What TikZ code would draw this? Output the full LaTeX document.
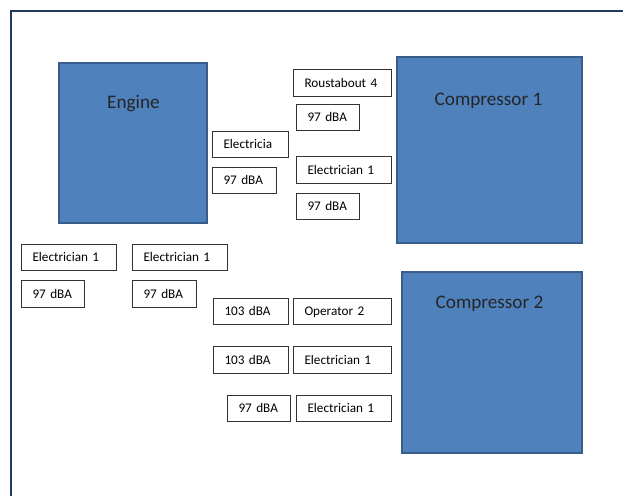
\documentclass[tikz,border=0pt]{standalone}
\usepackage{fontspec}
\setmainfont{Carlito}
\usepackage{tikz}
\usetikzlibrary{positioning}
\definecolor{officeblue}{HTML}{4F81BD}
\definecolor{officeedge}{HTML}{385D8A}
\definecolor{framenavy}{HTML}{1F3A5F}
\tikzset{
    machine/.style={rectangle, draw=officeedge, fill=officeblue, line width=1.6pt, inner sep=0pt},
    tag/.style={rectangle, draw=black!80, line width=0.9pt, fill=white, inner xsep=11.5pt, inner ysep=0pt, minimum height=26.5pt, text height=8.3pt, text depth=0pt, align=left, font=\fontsize{13.2}{15}\selectfont},
}

\begin{document}
\begin{tikzpicture}[x=1pt, y=-1pt]
        \tikzstyle{caption}=[anchor=base, text=black!85, font=\fontsize{19.2}{23}\selectfont]
        \useasboundingbox (0,0) rectangle (623,495);
        \clip (0,0) rectangle (623,495);
        \draw[framenavy, line width=2.2pt] (11,11) rectangle (660,530);

        % machines
        \foreach \name/\cx/\cy/\w/\h in {engine/133/143/148/160, compA/489.5/150/185/186, compB/492/362.5/180/181}
            \node[machine, minimum width=\w pt, minimum height=\h pt] (\name) at (\cx,\cy) {};

        \foreach \name/\cx/\cy/\txt in {engineText/133.5/108/Engine, compAText/488.5/105/Compressor 1, compBText/489.5/308/Compressor 2}
            \node[caption] (\name) at (\cx,\cy) {\txt};

        % workers and levels
        \foreach \name/\cx/\cy/\tw/\txt in {rstA/342/83/75/Roustabout 4, rstAdb/327.5/117.5/40/97 dBA,
                elcA/250/144.5/53/Electricia, elcAdb/244/180.5/41/97 dBA,
                elcB/343.5/170/72/Electrician 1, elcBdb/327.5/206.5/40/97 dBA,
                elcC/68.5/257.5/72/Electrician 1, elcCdb/52.5/294/40/97 dBA,
                elcD/179.5/257.5/72/Electrician 1, elcDdb/164/294/41/97 dBA,
                opBdb/250.5/311.5/52/103 dBA, opB/342/311.5/75/Operator 2,
                elcEdb/250.5/360/52/103 dBA, elcE/342/360/75/Electrician 1,
                elcFdb/258.5/408.5/40/97 dBA, elcF/343.5/408.5/72/Electrician 1}
            \node[tag, text width=\tw pt] (\name) at (\cx,\cy) {\txt};
\end{tikzpicture}
\end{document}
